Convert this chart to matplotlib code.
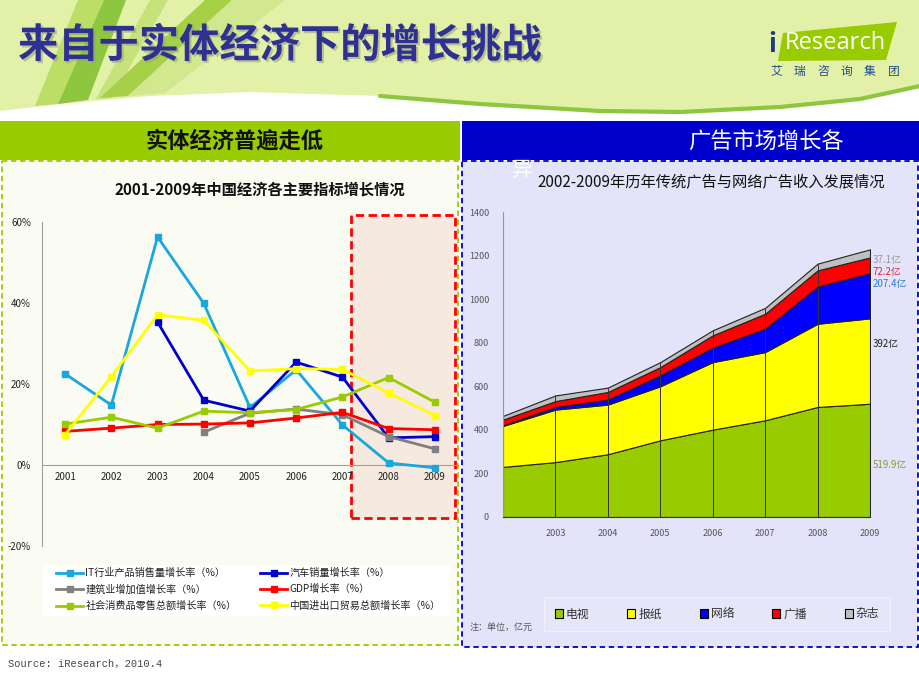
import matplotlib
matplotlib.use("Agg")
import matplotlib.pyplot as plt
import matplotlib.patheffects as pe
from matplotlib.patches import Polygon, Rectangle, Patch
import numpy as np

plt.rcParams['font.family'] = ['Noto Sans CJK SC', 'DejaVu Sans']
plt.rcParams['axes.unicode_minus'] = False

W, H = 920, 690

# ---------------- data ----------------
# left: 2001-2009 growth of main indicators (%)
years = [2001, 2002, 2003, 2004, 2005, 2006, 2007, 2008, 2009]
it_growth = [22.5, 14.8, 56.3, 39.9, 14.2, 23.5, 9.9, 0.5, -0.7]
car_growth = [np.nan, np.nan, 35.3, 16.0, 13.3, 25.4, 21.7, 6.7, 7.0]
build_growth = [np.nan, np.nan, np.nan, 8.1, 12.8, 13.8, 12.4, 7.0, 4.0]
gdp_growth = [8.3, 9.1, 10.0, 10.1, 10.4, 11.6, 13.0, 9.0, 8.7]
retail_growth = [10.1, 11.8, 9.1, 13.3, 12.9, 13.7, 16.8, 21.6, 15.5]
trade_growth = [7.5, 21.8, 37.1, 35.7, 23.2, 23.8, 23.6, 17.8, 12.2]
line_names = ['IT行业产品销售量增长率（%）', '汽车销量增长率（%）',
              '建筑业增加值增长率（%）', 'GDP增长率（%）',
              '社会消费品零售总额增长率（%）', '中国进出口贸易总额增长率（%）']
y_ticks_left = [-20, 0, 20, 40, 60]

# right: 2002-2009 ad revenue (亿元)
ad_years = [2002, 2003, 2004, 2005, 2006, 2007, 2008, 2009]
tv = [230, 252, 288, 352, 401, 444, 505, 519.9]
newspaper = [188, 241, 228, 248, 310, 313, 382, 392]
online = [3, 12, 23, 50, 66, 107, 171, 207.4]
radio = [26, 27, 35, 38, 57, 69, 74, 72.2]
magazine = [17, 26, 20, 23, 23, 27, 31, 37.1]
ad_names = ['电视', '报纸', '网络', '广播', '杂志']
end_labels = ['37.1亿', '72.2亿', '207.4亿', '392亿', '519.9亿']

# ---------------- figure & background ----------------
fig = plt.figure(figsize=(W / 100, H / 100), dpi=100)
fig.patch.set_facecolor('white')


def px_axes(x0, y0, x1, y1):
    return fig.add_axes([x0 / W, 1 - y1 / H, (x1 - x0) / W, (y1 - y0) / H])


bg = fig.add_axes([0, 0, 1, 1])
bg.set_xlim(0, W)
bg.set_ylim(H, 0)
bg.axis('off')

# header wave
curve = [(920, 86), (860, 99), (780, 107), (680, 112), (600, 111), (480, 104),
         (380, 96), (250, 92), (150, 96), (60, 104), (0, 111)]
bg.add_patch(Polygon([(0, 0), (920, 0)] + curve, closed=True,
                     facecolor='#E2F0A8', edgecolor='none', zorder=1))
cx = [p[0] for p in curve if p[0] >= 330]
cy = [p[1] for p in curve if p[0] >= 330]
bg.plot(cx, cy, color='#8DC63F', lw=3, solid_capstyle='round', zorder=2)
# left stripes
for pts, c in [([(78, 0), (104, 0), (58, 104), (35, 106)], '#BCDD66'),
               ([(104, 0), (126, 0), (88, 100), (58, 104)], '#8DC63F'),
               ([(150, 0), (168, 0), (112, 98), (96, 99)], '#C6E27A'),
               ([(205, 0), (232, 0), (128, 96), (100, 98)], '#A6D046'),
               ([(232, 0), (285, 0), (165, 93), (128, 96)], '#D2E88E')]:
    bg.add_patch(Polygon(pts, closed=True, facecolor=c, edgecolor='none', zorder=1.5))

# slide title
bg.text(18, 46, '来自于实体经济下的增长挑战', fontsize=29, fontweight='bold',
        color='#2E3192', ha='left', va='center', zorder=5,
        path_effects=[pe.withSimplePatchShadow(offset=(1.5, -1.5),
                                               shadow_rgbFace='#9AA080', alpha=0.6)])

# logo
bg.add_patch(Polygon([(783, 33), (897, 22), (886, 60), (778, 61)], closed=True,
                     facecolor='#99CC00', edgecolor='none', zorder=3))
bg.text(772, 44, 'i', fontsize=19, fontweight='bold', color='#1F3C88',
        ha='center', va='center', zorder=4)
bg.text(835, 43, 'Research', fontsize=17, color='white', family='Open Sans',
        ha='center', va='center', zorder=4)
for i, ch in enumerate('艾瑞咨询集团'):
    bg.text(776 + i * 23.5, 71, ch, fontsize=8.5, color='#1F4E8F',
            ha='center', va='center', zorder=4)

# section headers
bg.add_patch(Rectangle((0, 121), 460, 39, facecolor='#99CC00', edgecolor='none', zorder=2))
bg.add_patch(Rectangle((462, 121), 458, 39, facecolor='#0000CC', edgecolor='none', zorder=2))
bg.text(235, 141, '实体经济普遍走低', fontsize=16, fontweight='bold', color='#111111',
        ha='center', va='center', zorder=4)
bg.text(766, 141, '广告市场增长各', fontsize=16, color='white',
        ha='center', va='center', zorder=4)

# panels
bg.add_patch(Rectangle((2, 161), 456, 484, facecolor='#FAFBF2', edgecolor='#99CC00',
                       lw=1.3, ls=(0, (3, 2)), zorder=2))
bg.add_patch(Rectangle((462, 161), 456, 486, facecolor='#E3E3F9', edgecolor='#0000CC',
                       lw=1.3, ls=(0, (3, 2)), zorder=2))
bg.text(522, 170, '异', fontsize=15, color='white', ha='center', va='center', zorder=4)

bg.text(260, 190, '2001-2009年中国经济各主要指标增长情况', fontsize=11, fontweight='bold',
        color='#111111', ha='center', va='center', zorder=4)
bg.text(711, 183, '2002-2009年历年传统广告与网络广告收入发展情况', fontsize=11,
        color='#111111', ha='center', va='center', zorder=4)

# legend boxes
bg.add_patch(Rectangle((43, 565), 407, 51, facecolor='white', edgecolor='none', zorder=3))
bg.text(470, 627, '注：单位，亿元', fontsize=6.5, color='#555555', ha='left',
        va='center', zorder=4)
bg.text(8, 664, 'Source: iResearch，2010.4', fontsize=7.5, color='#444444',
        family=['Liberation Mono', 'Noto Sans CJK SC'], ha='left', va='center', zorder=4)

# ---------------- left line chart ----------------
axl = px_axes(42, 212, 458, 560)
axl.set_facecolor('none')
axl.set_xlim(2000.5, 2009.5)
axl.set_ylim(-23.46, 62.47)

axl.add_patch(Rectangle((2007.19, -13.1), 2.25, 74.8, facecolor='#F6E9DF',
                        edgecolor='#FF0000', lw=2, ls=(0, (3, 1.6)), zorder=1))

series = [it_growth, car_growth, build_growth, gdp_growth, retail_growth, trade_growth]
colors = ['#1AA7DD', '#0000CC', '#808080', '#FF0000', '#99CC00', '#FFFF00']
handles = []
for vals, c, name in zip(series, colors, line_names):
    h, = axl.plot(years, vals, color=c, lw=2, marker='s', markersize=4.5,
                  label=name, zorder=3)
    handles.append(h)

axl.set_xticks(years)
axl.set_xticklabels([str(y) for y in years])
axl.set_yticks(y_ticks_left)
axl.set_yticklabels([f'{v}%' for v in y_ticks_left])
axl.tick_params(axis='both', length=0, labelsize=7, colors='#222222')
axl.tick_params(axis='x', pad=5)
axl.tick_params(axis='y', pad=8)
for s in ['top', 'right']:
    axl.spines[s].set_visible(False)
axl.spines['bottom'].set_position(('data', 0))
axl.spines['bottom'].set_color('#A0A0A0')
axl.spines['left'].set_color('#A0A0A0')
axl.spines['left'].set_bounds(-20, 60)

order = [0, 2, 4, 1, 3, 5]
fig.legend([handles[i] for i in order], [line_names[i] for i in order],
           loc='upper left', bbox_to_anchor=(56 / W, 1 - 568 / H), ncol=2,
           frameon=False, fontsize=7.3, handlelength=2.7, handletextpad=0.2,
           labelspacing=0.6, columnspacing=2.3, borderpad=0, borderaxespad=0,
           labelcolor='#222222')

# ---------------- right stacked area chart ----------------
axr = px_axes(503, 212, 870, 517)
axr.set_facecolor('none')
axr.set_xlim(2002, 2009)
axr.set_ylim(0, 1400)
stack_colors = ['#99CC00', '#FFFF00', '#0000FF', '#FF0000', '#C0C0C0']
axr.stackplot(ad_years, tv, newspaper, online, radio, magazine, colors=stack_colors,
              edgecolor='#222222', lw=0.8, zorder=2)
totals = np.sum([tv, newspaper, online, radio, magazine], axis=0)
axr.vlines(ad_years[1:], 0, totals[1:], colors='#333333', lw=0.7, zorder=3)

axr.set_xticks(ad_years[1:])
axr.set_yticks(range(0, 1401, 200))
axr.tick_params(axis='both', length=0, labelsize=6.5, colors='#555555')
axr.tick_params(axis='x', pad=9)
axr.tick_params(axis='y', pad=10)
for s in ['top', 'right']:
    axr.spines[s].set_visible(False)
axr.spines['left'].set_color('#999999')
axr.spines['bottom'].set_color('#333333')

label_y = [1179, 1124, 1069, 794, 239]
label_colors = ['#999999', '#E8263C', '#2E7DD7', '#222222', '#8A9A3A']
for txt, yv, c in zip(end_labels, label_y, label_colors):
    axr.annotate(txt, xy=(2009, yv), xytext=(2, 0), textcoords='offset points',
                 fontsize=7, color=c, ha='left', va='center', annotation_clip=False)

leg = fig.legend([Patch(facecolor=c, edgecolor='black', lw=0.8) for c in stack_colors],
                 ad_names, loc='center', bbox_to_anchor=(717 / W, 1 - 614 / H),
                 ncol=5, fontsize=8.5, handlelength=0.7, handleheight=0.7,
                 handletextpad=0.25, columnspacing=3.2, borderpad=0.9,
                 labelcolor='#333333', fancybox=False)
leg.get_frame().set_facecolor('#E8E8FA')
leg.get_frame().set_edgecolor('#F2F2FF')

fig.savefig('out.png', dpi=100)
